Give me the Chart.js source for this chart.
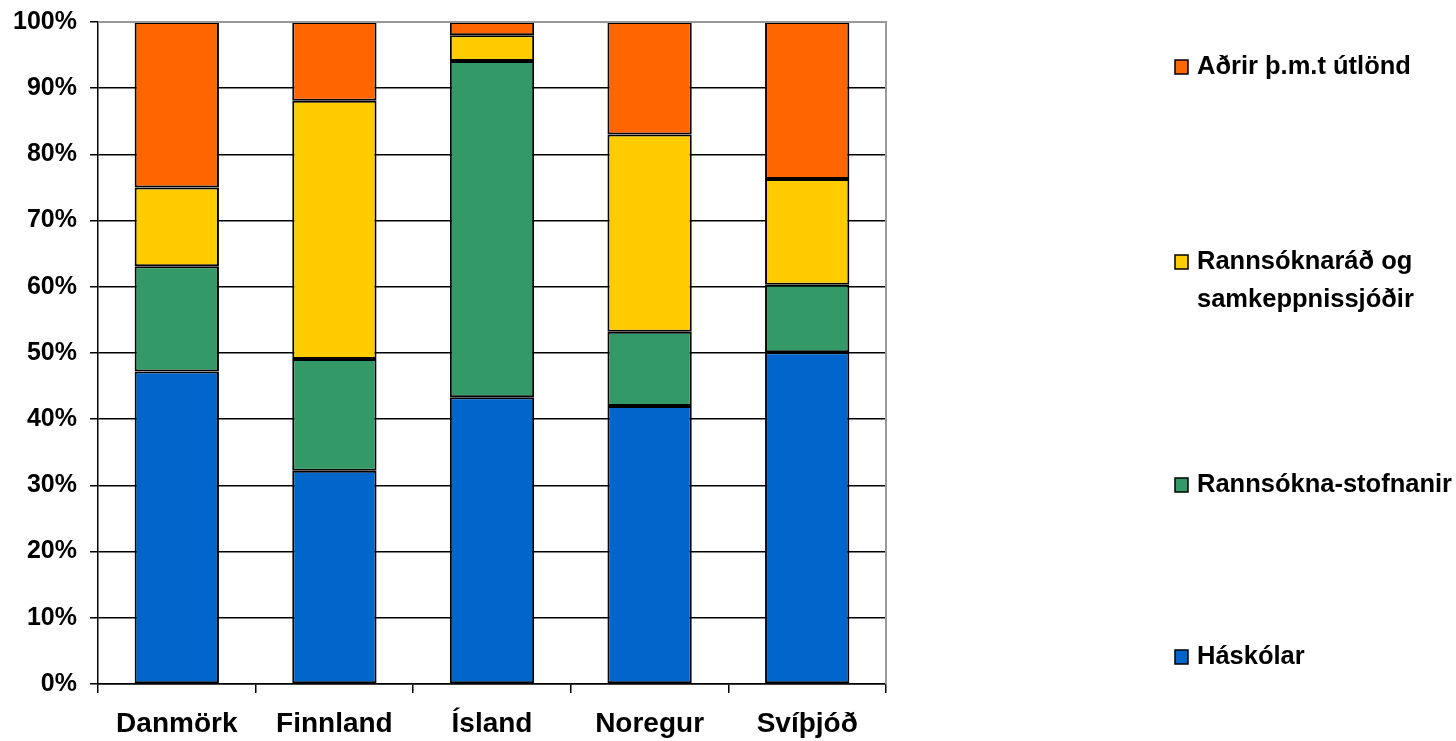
<!DOCTYPE html>
<html>
<head>
<meta charset="utf-8">
<script src="https://cdn.jsdelivr.net/npm/chart.js@4.4.1/dist/chart.umd.min.js"></script>
<style>
  html, body { margin: 0; padding: 0; background: #fff; }
  #wrap { width: 1456px; height: 741px; }
</style>
</head>
<body>
<div id="wrap"><canvas id="chart" width="1456" height="741"></canvas></div>
<script>
const countries = ['Danmörk', 'Finnland', 'Ísland', 'Noregur', 'Svíþjóð'];
const haskolar = [47.2, 32.2, 43.3, 42.0, 50.1];
const stofnanir = [15.9, 16.9, 50.8, 11.2, 10.2];
const sjodir = [11.9, 39.0, 3.9, 29.8, 16.0];
const adrir = [25.0, 11.9, 2.0, 17.0, 23.7];
const yTicks = [0, 10, 20, 30, 40, 50, 60, 70, 80, 90, 100];

const FONT = '"Liberation Sans", Arial, sans-serif';

// legend drawn at the right, items spread down the side like the original
const sideLegend = {
  id: 'sideLegend',
  afterDraw(chart) {
    const ctx = chart.ctx;
    const rows = [67, 262, 485, 657];
    const items = chart.data.datasets.slice().reverse();
    ctx.save();
    ctx.font = `bold 25.5px ${FONT}`;
    ctx.textBaseline = 'middle';
    items.forEach((ds, i) => {
      const y = rows[i];
      ctx.fillStyle = ds.backgroundColor;
      ctx.strokeStyle = '#000';
      ctx.lineWidth = 1.5;
      ctx.fillRect(1175, y - 7, 13, 14);
      ctx.strokeRect(1175, y - 7, 13, 14);
      ctx.fillStyle = '#000';
      const lines = Array.isArray(ds.label) ? ds.label : [ds.label];
      lines.forEach((line, j) => ctx.fillText(line, 1197, y + j * 38));
    });
    // grey frame on top and right of the plot
    const a = chart.chartArea;
    ctx.strokeStyle = '#999';
    ctx.lineWidth = 2;
    ctx.beginPath();
    ctx.moveTo(a.left, a.top);
    ctx.lineTo(a.right, a.top);
    ctx.lineTo(a.right, a.bottom);
    ctx.stroke();
    ctx.restore();
  },
};

const makeSet = (label, data, color) => ({
  label,
  data,
  backgroundColor: color,
  borderColor: '#000',
  borderWidth: 2,
  borderSkipped: false,
  barPercentage: 0.535,
  categoryPercentage: 1,
});

new Chart(document.getElementById('chart'), {
  type: 'bar',
  data: {
    labels: countries,
    datasets: [
      makeSet('Háskólar', haskolar, '#0066CC'),
      makeSet('Rannsókna-stofnanir', stofnanir, '#339966'),
      makeSet(['Rannsóknaráð og', 'samkeppnissjóðir'], sjodir, '#FFCC00'),
      makeSet('Aðrir þ.m.t útlönd', adrir, '#FF6600'),
    ],
  },
  options: {
    responsive: false,
    animation: false,
    layout: { padding: { top: 0, right: 570, left: 0, bottom: 0 } },
    plugins: {
      legend: { display: false },
      tooltip: { enabled: false },
    },
    scales: {
      x: {
        stacked: true,
        offset: true,
        grid: {
          offset: true,
          drawOnChartArea: false,
          drawTicks: true,
          tickLength: 9,
          color: '#000',
          lineWidth: 1.5,
        },
        border: { color: '#000', width: 1.5 },
        ticks: {
          color: '#000',
          padding: 14,
          font: { family: FONT, size: 28, weight: 'bold' },
        },
        afterFit: (scale) => { scale.height = 57; },
      },
      y: {
        stacked: true,
        min: 0,
        max: 100,
        afterBuildTicks: (scale) => { scale.ticks = yTicks.map((value) => ({ value })); },
        grid: {
          color: '#000',
          lineWidth: 1.5,
          tickLength: 8,
        },
        border: { color: '#000', width: 1.5 },
        ticks: {
          color: '#000',
          padding: 13,
          font: { family: FONT, size: 25, weight: 'bold', lineHeight: 0.72 },
          callback: (v) => `${v}%`,
        },
        afterFit: (scale) => { scale.width = 98; },
      },
    },
  },
  plugins: [sideLegend],
});
</script>
</body>
</html>
